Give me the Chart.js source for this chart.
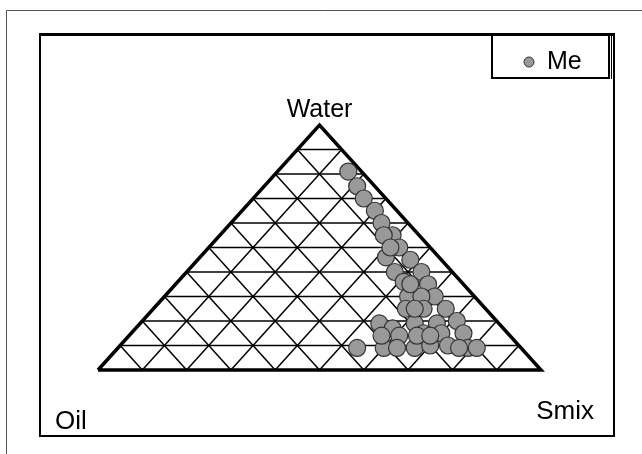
<!DOCTYPE html>
<html lang="en">
<head>
    <meta charset="UTF-8">
    <title>Ternary diagram - Water / Oil / Smix</title>
    <script src="https://cdn.jsdelivr.net/npm/chart.js"></script>
    <style>
        body { margin: 0; background: #fff; }
        #wrap { width: 642px; height: 454px; }
    </style>
</head>
<body>
<div id="wrap"><canvas id="chart" width="642" height="454"></canvas></div>
<script>
    // corner labels of the ternary diagram
    const cornerLabels = ["Water", "Oil", "Smix"];
    const seriesName = "Me";

    // composition of each point in percent
    const water = [81, 75, 70, 65, 60, 55, 50, 45, 40, 35, 30, 25, 20, 15, 9, 9,
                   46, 40, 36, 30, 30, 25, 25, 19, 19, 15, 15,
                   19, 17, 14, 9, 9, 9, 9, 10, 10, 9, 14, 14, 14, 25, 55, 35, 50];
    const oil   = [3, 4, 5, 5, 6, 6, 7, 7, 7, 8, 9, 9, 9, 10, 12, 10,
                   12, 13, 13, 15, 12, 18, 14, 19, 14, 19, 15,
                   27, 25, 25, 31, 37, 28, 24, 20, 16, 14, 29, 21, 18, 16, 8, 12, 9];
    const smix  = [16, 21, 25, 30, 34, 39, 43, 48, 53, 57, 61, 66, 71, 75, 79, 81,
                   42, 47, 51, 55, 58, 57, 61, 62, 67, 66, 70,
                   54, 58, 61, 60, 54, 63, 67, 70, 74, 77, 57, 65, 68, 59, 37, 53, 41];

    // grid every 10 %
    const gridSteps = [10, 20, 30, 40, 50, 60, 70, 80, 90];

    // ternary -> plane (x: 0..100 along the base, y: water %)
    function toXY(w, o, s) {
        const sum = w + o + s;
        const wn = w / sum * 100, sn = s / sum * 100;
        return { x: sn + wn / 2, y: wn };
    }

    const points = water.map((w, i) => toXY(w, oil[i], smix[i]));

    function lineSet(data, width) {
        return {
            data: data,
            showLine: true,
            borderColor: "#000",
            borderWidth: width,
            pointRadius: 0,
            clip: false
        };
    }

    const gridSets = [];
    gridSteps.forEach(k => {
        gridSets.push(lineSet([toXY(k, 100 - k, 0), toXY(k, 0, 100 - k)], 1.5)); // water = k
        gridSets.push(lineSet([toXY(0, 100 - k, k), toXY(100 - k, 0, k)], 1.5)); // smix = k
        gridSets.push(lineSet([toXY(0, k, 100 - k), toXY(100 - k, k, 0)], 1.5)); // oil = k
    });

    const edges = [toXY(0, 100, 0), toXY(0, 0, 100), toXY(100, 0, 0), toXY(0, 100, 0)];

    const frames = {
        id: "frames",
        afterDraw(chart) {
            const ctx = chart.ctx;
            ctx.save();
            // outer frame
            ctx.strokeStyle = "#555";
            ctx.lineWidth = 1;
            ctx.beginPath();
            ctx.moveTo(6.5, 454);
            ctx.lineTo(6.5, 10.5);
            ctx.lineTo(642, 10.5);
            ctx.stroke();
            // plot box
            ctx.strokeStyle = "#000";
            ctx.lineWidth = 2;
            ctx.strokeRect(40, 35, 574, 401);
            ctx.lineWidth = 3;
            ctx.beginPath();
            ctx.moveTo(39, 34.5);
            ctx.lineTo(615, 34.5);
            ctx.stroke();
            // legend box
            ctx.lineWidth = 2;
            ctx.strokeRect(492, 35, 117, 43);
            ctx.lineWidth = 1;
            ctx.beginPath();
            ctx.moveTo(611.5, 35);
            ctx.lineTo(611.5, 79);
            ctx.stroke();
            ctx.fillStyle = "#999";
            ctx.strokeStyle = "#333";
            ctx.beginPath();
            ctx.arc(529, 62, 5, 0, Math.PI * 2);
            ctx.fill();
            ctx.stroke();
            ctx.fillStyle = "#000";
            ctx.textBaseline = "alphabetic";
            ctx.font = "25px 'Liberation Sans', Arial, sans-serif";
            ctx.textAlign = "left";
            ctx.fillText(seriesName, 547, 69);
            // corner labels
            const top = chart.scales.x.getPixelForValue(50);
            const apex = chart.scales.y.getPixelForValue(100);
            ctx.font = "25px 'Liberation Sans', Arial, sans-serif";
            ctx.textAlign = "center";
            ctx.fillText(cornerLabels[0], top, apex - 8);
            ctx.font = "26px 'Liberation Sans', Arial, sans-serif";
            ctx.textAlign = "left";
            ctx.fillText(cornerLabels[1], 55, 429);
            ctx.textAlign = "right";
            ctx.fillText(cornerLabels[2], 594, 419);
            ctx.restore();
        }
    };

    new Chart(document.getElementById("chart"), {
        type: "scatter",
        data: {
            datasets: [
                {
                    label: seriesName,
                    data: points,
                    backgroundColor: "#999999",
                    borderColor: "#333333",
                    borderWidth: 1.2,
                    pointRadius: 8.5,
                    clip: false
                },
                lineSet(edges, 3.5)
            ].concat(gridSets)
        },
        options: {
            responsive: false,
            animation: false,
            layout: { padding: { left: 98, right: 101, top: 125, bottom: 84 } },
            scales: {
                x: { type: "linear", min: 0, max: 100, display: false },
                y: { type: "linear", min: 0, max: 100, display: false }
            },
            plugins: {
                legend: { display: false },
                tooltip: { enabled: false }
            }
        },
        plugins: [frames]
    });
</script>
</body>
</html>
